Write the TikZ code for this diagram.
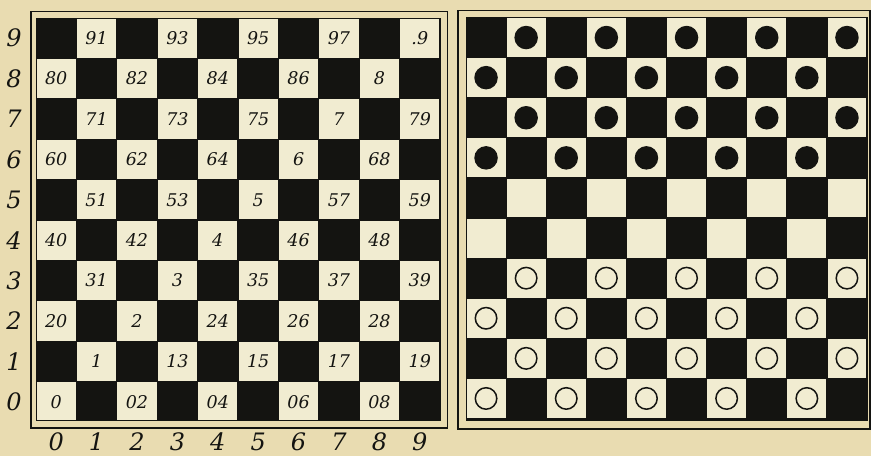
\documentclass[tikz,border=0pt]{standalone}
\usepackage{fontspec}
\setmainfont{DejaVu Serif}
\definecolor{paper}{HTML}{E9DCB1}
\definecolor{cream}{HTML}{F1ECD1}
\definecolor{ink}{HTML}{141411}
\begin{document}
\begin{tikzpicture}[x=1pt,y=-1pt,
  sqnum/.style={font=\fontsize{17.5}{17.5}\selectfont\itshape, text=ink, inner sep=0pt},
  axlab/.style={font=\fontsize{24}{24}\selectfont\itshape, text=ink, inner sep=0pt},
  frame/.style={draw=ink, line width=1.4pt},
  blackman/.style={circle, fill=ink, minimum size=23.5pt, inner sep=0pt},
  whiteman/.style={circle, draw=ink, line width=1.5pt, fill=cream, minimum size=21.5pt, inner sep=0pt}]
\fill[paper] (0,0) rectangle (871,456);
\useasboundingbox (0,0) rectangle (871,456);

% ---------- left board ----------
\def\sL{40.4}
\fill[ink] (36,18) rectangle (440,420);
\foreach \r in {0,...,9}{
  \foreach \k in {0,...,4}{
    \pgfmathsetmacro\c{2*\k+mod(\r,2)}
    \fill[cream] ({36+\c*\sL+0.6},{18+(9-\r)*\sL+0.6}) rectangle ++({\sL-1.2},{\sL-1.2});
  }
}
\draw[ink, line width=0.7pt] (36,18) rectangle (440,420);
\draw[frame] (31,11.5) rectangle (447.5,428);

% numbers: col/row/text
\foreach \c/\r/\t in {
  1/9/91, 3/9/93, 5/9/95, 7/9/97, 9/9/.9,
  0/8/80, 2/8/82, 4/8/84, 6/8/86, 8/8/8,
  1/7/71, 3/7/73, 5/7/75, 7/7/7, 9/7/79,
  0/6/60, 2/6/62, 4/6/64, 6/6/6, 8/6/68,
  1/5/51, 3/5/53, 5/5/5, 7/5/57, 9/5/59,
  0/4/40, 2/4/42, 4/4/4, 6/4/46, 8/4/48,
  1/3/31, 3/3/3, 5/3/35, 7/3/37, 9/3/39,
  0/2/20, 2/2/2, 4/2/24, 6/2/26, 8/2/28,
  1/1/1, 3/1/13, 5/1/15, 7/1/17, 9/1/19,
  0/0/0, 2/0/02, 4/0/04, 6/0/06, 8/0/08}{
  \node[sqnum] (n\c\r) at ({36+(\c+0.5)*\sL},{18+(9.5-\r)*\sL}) {\t};
}

% axis labels
\foreach \r in {0,...,9}{
  \node[axlab] (row\r) at (14,{18+(9.5-\r)*\sL}) {\r};
}
\foreach \c in {0,...,9}{
  \node[axlab] (col\c) at ({36+(\c+0.5)*\sL},442) {\c};
}

% ---------- right board ----------
\def\sR{40.1}
\fill[ink] (466,17.5) rectangle (867,420);
\foreach \r in {0,...,9}{
  \foreach \k in {0,...,4}{
    \pgfmathsetmacro\c{2*\k+mod(\r,2)}
    \fill[cream] ({466+\c*\sR+0.6},{17.5+(9-\r)*\sR+0.6}) rectangle ++({\sR-1.2},{\sR-1.2});
  }
}
\draw[ink, line width=0.7pt] (466,17.5) rectangle (867,420);
\draw[frame] (458,10.5) rectangle (870,429);

% black men on rows 9..6, white men on rows 3..0
\foreach \r in {6,...,9}{
  \foreach \k in {0,...,4}{
    \pgfmathsetmacro\c{2*\k+mod(\r,2)}
    \node[blackman] (b\r\k) at ({466+(\c+0.5)*\sR},{17.5+(9.5-\r)*\sR}) {};
  }
}
\foreach \r in {0,...,3}{
  \foreach \k in {0,...,4}{
    \pgfmathsetmacro\c{2*\k+mod(\r,2)}
    \node[whiteman] (w\r\k) at ({466+(\c+0.5)*\sR},{17.5+(9.5-\r)*\sR}) {};
  }
}
\end{tikzpicture}
\end{document}
